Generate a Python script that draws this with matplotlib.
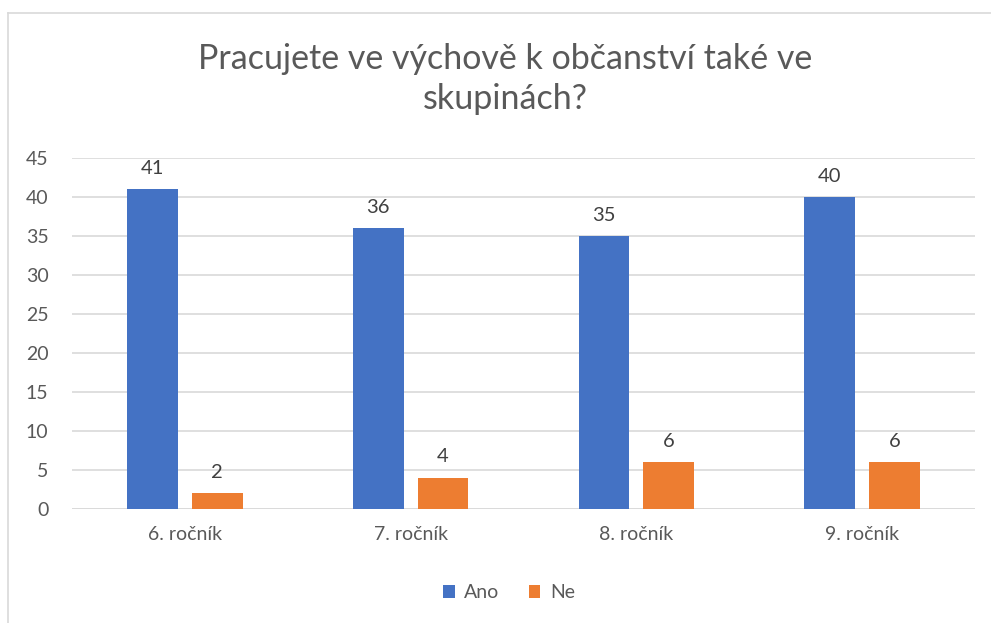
import matplotlib
matplotlib.use("Agg")
import matplotlib.pyplot as plt
import numpy as np
from matplotlib.lines import Line2D

categories = ["6. ročník", "7. ročník", "8. ročník", "9. ročník"]
ano = [41, 36, 35, 40]
ne = [2, 4, 6, 6]
series_names = ["Ano", "Ne"]
title = "Pracujete ve výchově k občanství také ve\nskupinách?"
yticks = [0, 5, 10, 15, 20, 25, 30, 35, 40, 45]

plt.rcParams['font.family'] = ['Lato', 'DejaVu Sans']
W, H = 991, 623
fig = plt.figure(figsize=(W / 100, H / 100), dpi=100)

# chart border (cropped at right/bottom)
fig.add_artist(Line2D([8 / W, 8 / W], [0, 1 - 13 / H], color="#d9d9d9", lw=1.2, transform=fig.transFigure))
fig.add_artist(Line2D([8 / W, 1], [1 - 13 / H, 1 - 13 / H], color="#d9d9d9", lw=1.2, transform=fig.transFigure))

ax = fig.add_axes([72 / W, 1 - 509 / H, (975 - 72) / W, (509 - 158.3) / H])
x = np.arange(len(categories))
bw = 0.225
gap = 0.062
off = (bw + gap) / 2
blue = "#4472c4"
orange = "#ed7d31"
b1 = ax.bar(x - off, ano, bw, color=blue, label=series_names[0], zorder=3)
b2 = ax.bar(x + off, ne, bw, color=orange, label=series_names[1], zorder=3)

for bars, vals in ((b1, ano), (b2, ne)):
    for r, v in zip(bars, vals):
        ax.annotate(str(v), (r.get_x() + r.get_width() / 2, v), xytext=(0, 9),
                    textcoords="offset points", ha="center", va="bottom",
                    fontsize=14.5, color="#404040")

ax.set_xlim(-0.5, len(categories) - 0.5)
ax.set_ylim(0, 45)
ax.set_yticks(yticks)
ax.set_yticklabels([str(t) for t in yticks])
ax.yaxis.grid(True, color="#d9d9d9", lw=1.2, zorder=0)
ax.set_xticks(x)
ax.set_xticklabels(categories)
ax.tick_params(axis="both", length=0, labelsize=14, labelcolor="#595959")
ax.tick_params(axis="x", pad=12)
ax.tick_params(axis="y", pad=17)
for s in ax.spines.values():
    s.set_visible(False)
ax.axhline(0, color="#d9d9d9", lw=1.2, zorder=2)

fig.text(505 / W, 1 - 79 / H, title, ha="center", va="center", fontsize=24.5,
         color="#595959", linespacing=1.3)

leg = fig.legend(handles=[b1, b2], loc="center", bbox_to_anchor=(509 / W, 1 - 593 / H),
                 ncol=2, frameon=False, fontsize=14, handlelength=0.6, handleheight=0.6,
                 columnspacing=1.5, handletextpad=0.5, labelcolor="#595959")

fig.savefig("out.png", dpi=100, facecolor="white")
